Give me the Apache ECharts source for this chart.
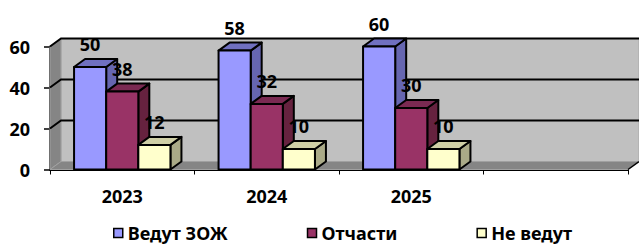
<!DOCTYPE html>
<html>
<head>
<meta charset="utf-8">
<script src="https://cdn.jsdelivr.net/npm/echarts@6/dist/echarts.min.js"></script>
<style>
html,body{margin:0;padding:0;background:#fff;}
#c{width:639px;height:244px;}
</style>
</head>
<body>
<div id="c"></div>
<script>
const categories = ['2023', '2024', '2025', ''];
const seriesNames = ['Ведут ЗОЖ', 'Отчасти', 'Не ведут'];
const vedutZOZH = [50, 58, 60];
const otchasti = [38, 32, 30];
const neVedut = [12, 10, 10];
const yMin = 0, yMax = 60, yStep = 20;

const FONT = '"Noto Sans", "DejaVu Sans", sans-serif';
const DX = 11, DY = -8;
const faceColors = [
  { front: '#9999FF', top: '#7070C0', side: '#6666B0' },
  { front: '#993366', top: '#7A2A52', side: '#66223F' },
  { front: '#FFFFCC', top: '#CFCFA6', side: '#AAAA88' }
];
const valuesBySeries = [vedutZOZH, otchasti, neVedut];

function wallsRender(params, api) {
  const cs = params.coordSys;
  const x0 = cs.x, x1 = cs.x + cs.width;
  const y0 = api.coord([0, yMin])[1];
  const yT = api.coord([0, yMax])[1];
  const children = [
    { type: 'polygon', shape: { points: [[x0 + DX, yT + DY], [x1 + DX, yT + DY], [x1 + DX, y0 + DY], [x0 + DX, y0 + DY]] }, style: { fill: '#C0C0C0', stroke: '#A8A8A8', lineWidth: 1 } },
    { type: 'polygon', shape: { points: [[x0, yT], [x0 + DX, yT + DY], [x0 + DX, y0 + DY], [x0, y0]] }, style: { fill: '#858585', stroke: '#A0A0A0', lineWidth: 1 } },
    { type: 'polygon', shape: { points: [[x0, y0], [x0 + DX, y0 + DY], [x1 + DX, y0 + DY], [x1, y0]] }, style: { fill: '#858585', stroke: '#A0A0A0', lineWidth: 1 } },
    { type: 'line', shape: { x1: x1, y1: y0, x2: x1 + DX, y2: y0 + DY }, style: { stroke: '#000', lineWidth: 1.5 } }
  ];
  for (let v = yMin + yStep; v <= yMax; v += yStep) {
    const y = api.coord([0, v])[1];
    children.push({ type: 'polyline', shape: { points: [[x0, y], [x0 + DX, y + DY], [x1 + DX, y + DY]] }, style: { stroke: '#000', lineWidth: 2, fill: null } });
  }
  return { type: 'group', children: children };
}

function barRender(sIdx) {
  return function (params, api) {
    const cat = api.value(0), v = api.value(1);
    const p = api.coord([cat, v]);
    const p0 = api.coord([cat, 0]);
    const band = api.size([1, 0])[0];
    const bw = band * 0.667 / 3;
    const left = p[0] - 1.5 * bw + sIdx * bw;
    const right = left + bw;
    const yt = p[1], yb = p0[1];
    const c = faceColors[sIdx];
    const st = { stroke: '#000', lineWidth: 2, lineJoin: 'round' };
    return {
      type: 'group',
      children: [
        { type: 'polygon', shape: { points: [[right, yt], [right + DX, yt + DY], [right + DX, yb + DY], [right, yb]] }, style: Object.assign({ fill: c.side }, st) },
        { type: 'polygon', shape: { points: [[left, yt], [left + DX, yt + DY], [right + DX, yt + DY], [right, yt]] }, style: Object.assign({ fill: c.top }, st) },
        { type: 'rect', shape: { x: left, y: yt, width: bw, height: yb - yt }, style: Object.assign({ fill: c.front }, st) },
        { type: 'text', z2: 100, style: { text: String(v), x: left + bw / 2, y: yt - 23, align: 'center', verticalAlign: 'middle', fill: '#000', font: 'bold 18px ' + FONT } }
      ]
    };
  };
}

const series = [{
  type: 'custom', name: '__walls', z: 1, silent: true,
  renderItem: wallsRender, data: [[0, 0]]
}];
seriesNames.forEach(function (name, i) {
  series.push({
    type: 'custom', name: name, z: 2 + i,
    itemStyle: { color: faceColors[i].front, borderColor: '#000', borderWidth: 1.5 },
    renderItem: barRender(i),
    data: valuesBySeries[i].map(function (v, k) { return [k, v]; })
  });
});

const chart = echarts.init(document.getElementById('c'), null, { renderer: 'svg' });
chart.setOption({
  animation: false,
  backgroundColor: '#fff',
  grid: { left: 50, right: 11, top: 46.5, bottom: 74.5, containLabel: false },
  xAxis: {
    type: 'category', data: categories, boundaryGap: true,
    axisLine: { show: true, lineStyle: { color: '#000', width: 2 } },
    axisTick: { show: true, length: 5, lineStyle: { color: '#000', width: 1 } },
    axisLabel: { color: '#000', fontWeight: 'bold', fontSize: 18, fontFamily: FONT, margin: 17 },
    splitLine: { show: false }
  },
  yAxis: {
    type: 'value', min: yMin, max: yMax, interval: yStep,
    axisLine: { show: true, lineStyle: { color: '#000', width: 1.5 } },
    axisTick: { show: true, length: 6, lineStyle: { color: '#000', width: 1.5 } },
    axisLabel: { color: '#000', fontWeight: 'bold', fontSize: 18, fontFamily: FONT, margin: 20 },
    splitLine: { show: false }
  },
  legend: {
    data: seriesNames, left: 113, top: 222, padding: 0, itemGap: 79, itemWidth: 9, itemHeight: 9,
    icon: 'rect',
    itemStyle: { borderColor: '#000', borderWidth: 1.5 },
    textStyle: { color: '#000', fontWeight: 'bold', fontSize: 18, fontFamily: FONT, lineHeight: 22 }
  },
  series: series
});
</script>
</body>
</html>
